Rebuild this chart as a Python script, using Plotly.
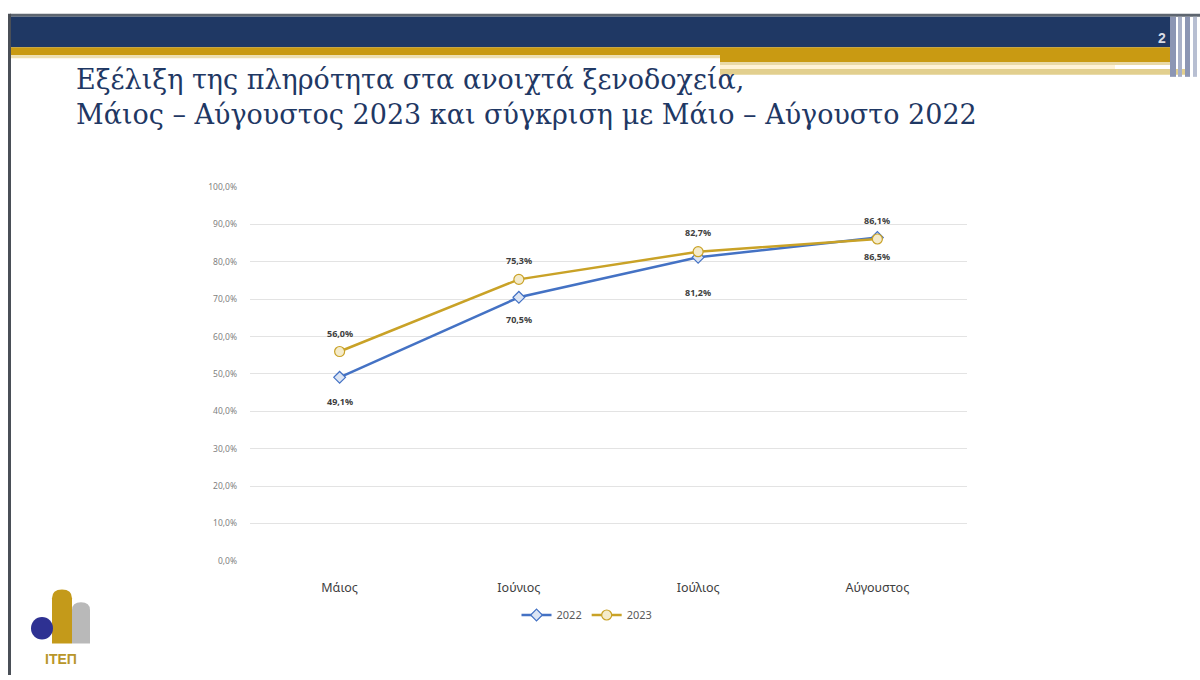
import plotly.graph_objects as go

# Occupancy of open hotels, May–August (percent)
months = ["Μάιος", "Ιούνιος", "Ιούλιος", "Αύγουστος"]
occ_2022 = [49.1, 70.5, 81.2, 86.5]
occ_2023 = [56.0, 75.3, 82.7, 86.1]
labels_2022 = ["49,1%", "70,5%", "81,2%", "86,5%"]
labels_2023 = ["56,0%", "75,3%", "82,7%", "86,1%"]
y_ticks = [0, 10, 20, 30, 40, 50, 60, 70, 80, 90, 100]
y_ticktext = ["0,0%", "10,0%", "20,0%", "30,0%", "40,0%", "50,0%",
              "60,0%", "70,0%", "80,0%", "90,0%", "100,0%"]

W, H = 1200, 680
BLUE = "#4472C4"
GOLD = "#C9A227"
NAVY = "#1F3864"
LABEL_FONT = dict(family="Noto Sans", size=9, color="#404040", weight="bold")

# pixel offsets of the value labels (2023 above the line, 2022 below)
shift_2023 = [18, 19, 19, 18]
shift_2022 = [-24, -22, -35, -19]


def px(x):
    return x / W


def py(y):
    return 1 - y / H


def rect(x0, y0, x1, y1, color):
    return dict(type="rect", xref="paper", yref="paper",
                x0=px(x0), x1=px(x1), y0=py(y1), y1=py(y0),
                fillcolor=color, line=dict(width=0), layer="below")


fig = go.Figure()

fig.add_trace(go.Scatter(
    x=months, y=occ_2022, name="2022", mode="lines+markers",
    line=dict(color=BLUE, width=2.5),
    marker=dict(symbol="diamond", size=9, color="#DCE5F4",
                line=dict(color=BLUE, width=1.2)),
))
fig.add_trace(go.Scatter(
    x=months, y=occ_2023, name="2023", mode="lines+markers",
    line=dict(color=GOLD, width=2.5),
    marker=dict(symbol="circle", size=10, color="#F4EBCB",
                line=dict(color=GOLD, width=1.2)),
))

annotations = []
for m, v, t, s in zip(months, occ_2023, labels_2023, shift_2023):
    annotations.append(dict(x=m, y=v, text=t, showarrow=False, yshift=s,
                            xref="x", yref="y", font=LABEL_FONT))
for m, v, t, s in zip(months, occ_2022, labels_2022, shift_2022):
    annotations.append(dict(x=m, y=v, text=t, showarrow=False, yshift=s,
                            xref="x", yref="y", font=LABEL_FONT))

shapes = [
    # header bands
    rect(10, 8, 1200, 11, "#5E6670"),
    rect(10, 11, 1170, 42, "#1F3864"),
    rect(10, 42, 720, 50, "#C99A12"),
    rect(720, 42, 1170, 57, "#C99A12"),
    rect(10, 50, 720, 53, "#EEDFB0"),
    rect(720, 57, 1170, 60, "#E9D9A6"),
    rect(720, 60, 1115, 64, "#FFF3D6"),
    rect(720, 64, 1185, 70, "#E2CF8E"),
    # right side stripes
    rect(1170, 11, 1176, 72, "#8C96B4"),
    rect(1178, 11, 1182, 72, "#A9B1C8"),
    rect(1185, 11, 1190, 72, "#8C96B4"),
    rect(1193, 11, 1197, 72, "#B8BFD2"),
    # left border
    rect(8, 8, 11, 680, "#4A4F57"),
    # logo
    dict(type="path", xref="paper", yref="paper", layer="below",
         path=(f"M {px(52)} {py(648)} L {px(52)} {py(602)} "
               f"Q {px(52)} {py(593)} {px(62)} {py(593)} "
               f"Q {px(72)} {py(593)} {px(72)} {py(602)} "
               f"L {px(72)} {py(648)} Z"),
         fillcolor="#C49A1A", line=dict(width=0)),
    dict(type="path", xref="paper", yref="paper", layer="below",
         path=(f"M {px(72)} {py(648)} L {px(72)} {py(614)} "
               f"Q {px(72)} {py(606)} {px(81)} {py(606)} "
               f"Q {px(90)} {py(606)} {px(90)} {py(614)} "
               f"L {px(90)} {py(648)} Z"),
         fillcolor="#B9B9B9", line=dict(width=0)),
    dict(type="circle", xref="paper", yref="paper",
         x0=px(31), x1=px(53), y0=py(644), y1=py(621),
         fillcolor="#2E3192", line=dict(width=0)),
]

annotations += [
    dict(text="Εξέλιξη της πληρότητα στα ανοιχτά ξενοδοχεία,<br>"
              "Μάιος – Αύγουστος 2023 και σύγκριση με Μάιο – Αύγουστο 2022",
         xref="paper", yref="paper", x=px(74), y=py(57),
         xanchor="left", yanchor="top", align="left", showarrow=False,
         font=dict(family="DejaVu Serif", size=27, color=NAVY)),
    dict(text="<b>2</b>", xref="paper", yref="paper", x=px(1162), y=py(33),
         xanchor="center", yanchor="middle", showarrow=False,
         font=dict(family="Liberation Sans", size=14, color="#D8DCE6")),
    dict(text="<b>ITEΠ</b>", xref="paper", yref="paper", x=px(61), y=py(664),
         xanchor="center", yanchor="middle", showarrow=False,
         font=dict(family="Liberation Sans", size=14, color="#B8962A")),
]

fig.update_layout(
    width=W, height=H,
    margin=dict(l=0, r=0, t=0, b=0),
    paper_bgcolor="white", plot_bgcolor="white",
    shapes=shapes, annotations=annotations,
    showlegend=True,
    legend=dict(orientation="h", x=px(587), y=py(619),
                xanchor="center", yanchor="middle",
                font=dict(family="Noto Sans", size=11, color="#595959"),
                itemwidth=30),
    xaxis=dict(domain=[px(250), px(967)], range=[-0.5, 3.5],
               showgrid=False, showline=False, ticks="",
               tickfont=dict(family="Noto Sans", size=12.5, color="#404040"),
               ticklabelstandoff=18),
    yaxis=dict(domain=[py(564), py(184)], range=[0, 100],
               tickvals=y_ticks, ticktext=y_ticktext,
               showgrid=True, gridcolor="#E3E3E3", gridwidth=1,
               zeroline=False, showline=False, ticks="",
               tickfont=dict(family="Noto Sans", size=8.5, color="#7F7F7F"),
               ticklabelstandoff=12),
)

fig.write_html("out.html")
